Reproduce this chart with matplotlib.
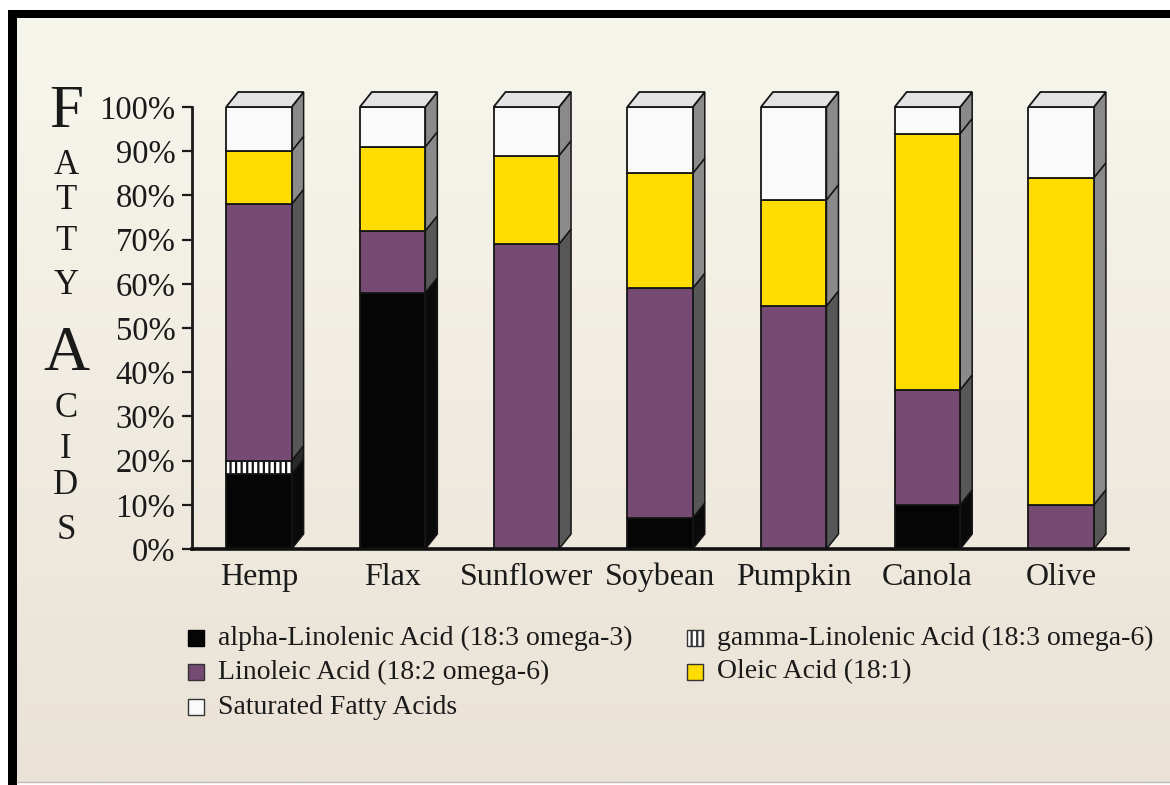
import numpy as np
import matplotlib
matplotlib.use("Agg")
import matplotlib.pyplot as plt
from matplotlib.patches import Polygon, Rectangle

# ---------------- data ----------------
oils = ["Hemp", "Flax", "Sunflower", "Soybean", "Pumpkin", "Canola", "Olive"]
alpha_linolenic = [17, 58, 0, 7, 0, 10, 0]
gamma_linolenic = [3, 0, 0, 0, 0, 0, 0]
linoleic = [58, 14, 69, 52, 55, 26, 10]
oleic = [12, 19, 20, 26, 24, 58, 74]
saturated = [10, 9, 11, 15, 21, 6, 16]

series_names = ["alpha-Linolenic Acid (18:3 omega-3)",
                "gamma-Linolenic Acid (18:3 omega-6)",
                "Linoleic Acid (18:2 omega-6)",
                "Oleic Acid (18:1)",
                "Saturated Fatty Acids"]
series_values = [alpha_linolenic, gamma_linolenic, linoleic, oleic, saturated]
front_colors = ["#050505", "#ffffff", "#754a73", "#ffdd00", "#fafafa"]
side_colors = ["#0a0a0a", "#2a2a2a", "#575757", "#8a8a8a", "#8a8a8a"]
hatches = [None, "|||", None, None, None]

ytick_values = [0, 10, 20, 30, 40, 50, 60, 70, 80, 90, 100]
ytick_labels = [f"{v}%" for v in ytick_values]

# ---------------- figure ----------------
W, H = 1170, 785
plt.rcParams["font.family"] = ["Liberation Serif", "DejaVu Serif"]
plt.rcParams["hatch.linewidth"] = 1.6
fig = plt.figure(figsize=(W / 100, H / 100), dpi=100)
fig.patch.set_facecolor("white")

def fx(px):
    return px / W

def fy(py):
    return 1 - py / H

# background gradient + frame
bg = fig.add_axes([0, 0, 1, 1], zorder=-10)
bg.axis("off")
top_c = np.array([247, 246, 237]) / 255
bot_c = np.array([234, 226, 214]) / 255
t = np.linspace(0, 1, 256)[:, None]
grad = (top_c[None, :] * (1 - t) + bot_c[None, :] * t)[:, None, :]
bg.imshow(grad, extent=[17, W, 782, 18], aspect="auto", interpolation="bilinear")
bg.add_patch(Rectangle((8, 10), W - 8, 8, color="black", lw=0))
bg.add_patch(Rectangle((8, 10), 9, H - 10, color="black", lw=0))
bg.plot([17, W], [782, 782], color="#bdb8b0", lw=1)
bg.set_xlim(0, W)
bg.set_ylim(H, 0)

# main axes
ax = fig.add_axes([fx(192), fy(549), (1128 - 192) / W, (549 - 107) / H])
ax.patch.set_visible(False)
ax.set_xlim(-0.5, len(oils) - 0.5)
ax.set_ylim(0, 100)

x = np.arange(len(oils))
bw = 0.49
# depth offsets expressed through the axes scale (about 12 px right, 15 px up)
dx = 12 * (len(oils)) / (1128 - 192)
dy = 15 * 100 / (549 - 107)

bottoms = np.zeros(len(oils))
for vals, fc, sc, hat in zip(series_values, front_colors, side_colors, hatches):
    vals = np.array(vals, dtype=float)
    for i in range(len(oils)):
        v = vals[i]
        if v <= 0:
            continue
        b = bottoms[i]
        ax.bar(x[i], v, bottom=b, width=bw, color=fc, edgecolor="#151515",
               linewidth=1.3, hatch=hat, zorder=3)
        xr = x[i] + bw / 2
        side = Polygon([(xr, b), (xr + dx, b + dy), (xr + dx, b + v + dy), (xr, b + v)],
                       closed=True, facecolor=sc, edgecolor="#151515", lw=1.1,
                       zorder=2, clip_on=False)
        ax.add_patch(side)
    bottoms += vals

# top faces
for i in range(len(oils)):
    top = bottoms[i]
    xl, xr = x[i] - bw / 2, x[i] + bw / 2
    face = Polygon([(xl, top), (xl + dx, top + dy), (xr + dx, top + dy), (xr, top)],
                   closed=True, facecolor="#e3e3e3", edgecolor="#151515", lw=1.3,
                   zorder=4, clip_on=False)
    ax.add_patch(face)

# axes styling
for s in ["top", "right"]:
    ax.spines[s].set_visible(False)
ax.spines["left"].set_linewidth(2)
ax.spines["bottom"].set_linewidth(2.6)
ax.spines["left"].set_color("#1a1a1a")
ax.spines["bottom"].set_color("#111111")
ax.spines["left"].set_zorder(5)
ax.spines["bottom"].set_zorder(5)
ax.set_yticks(ytick_values)
ax.set_yticklabels(ytick_labels)
ax.tick_params(axis="y", length=7, width=1.6, pad=5, labelsize=23.5,
               colors="#1a1a1a", direction="out")
ax.set_xticks(x)
ax.set_xticklabels(oils)
ax.tick_params(axis="x", length=0, pad=10, labelsize=23, colors="#1a1a1a")

# vertical "FATTY ACIDS" label
letters = ["F", "A", "T", "T", "Y", "A", "C", "I", "D", "S"]
baselines = [127, 174, 209, 250, 294, 370, 417, 458, 494, 539]
sizes = [44, 25, 25, 25, 25, 46, 25, 25, 25, 25]
for ch, bl, sz in zip(letters, baselines, sizes):
    fig.text(fx(66), fy(bl), ch, fontsize=sz, ha="center", va="baseline",
             color="#1a1a1a")

# legend (manual two-column layout)
legend_layout = [(0, 188, 638), (1, 687, 638), (2, 188, 672), (3, 687, 672), (4, 188, 707)]
for idx, mx, my in legend_layout:
    bg.add_patch(Rectangle((mx, my - 8), 16, 16, facecolor=front_colors[idx],
                           edgecolor="#333333" if idx != 0 else "black", lw=1.0,
                           hatch=hatches[idx]))
    bg.text(mx + 30, my, series_names[idx], fontsize=20, ha="left", va="center",
            color="#1a1a1a")

fig.savefig("out.png", dpi=100, facecolor=fig.get_facecolor())
